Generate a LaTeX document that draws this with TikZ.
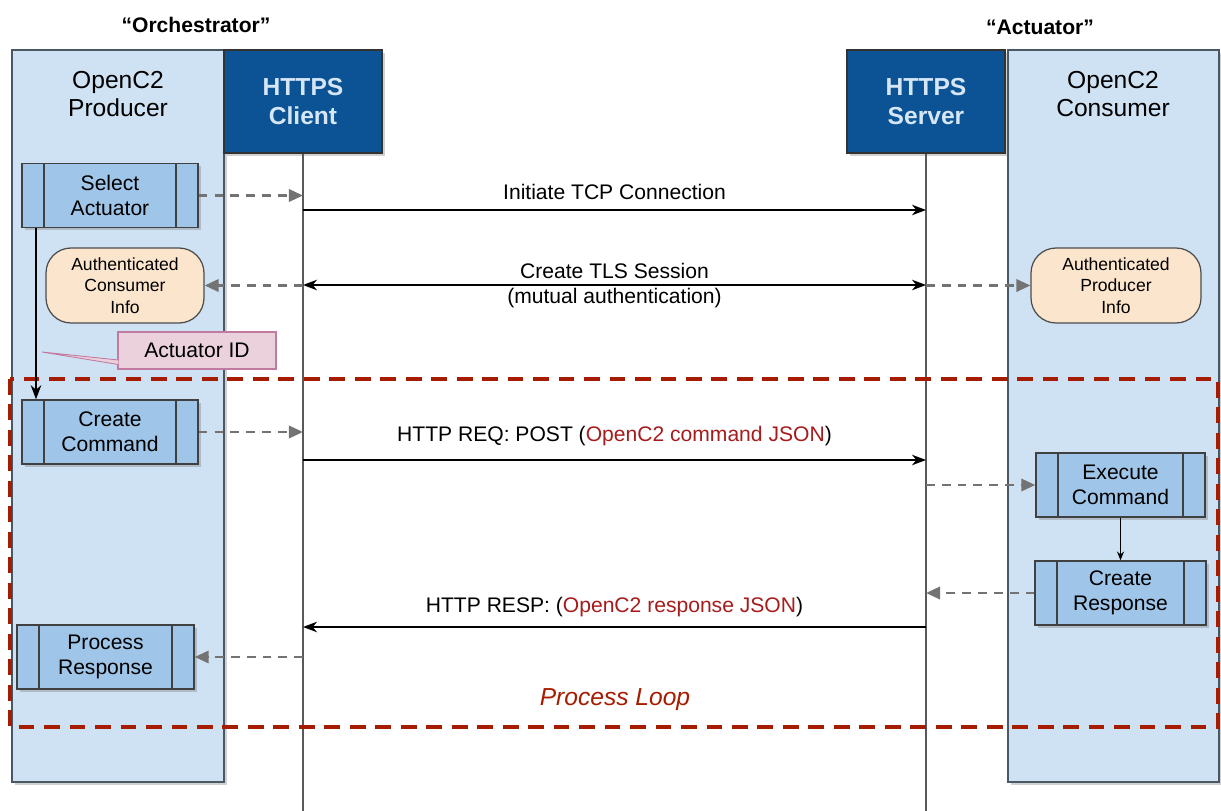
\documentclass[tikz,border=0pt]{standalone}
\usepackage{fontspec}
\setmainfont{Liberation Sans}
\usetikzlibrary{arrows.meta,shadows}
\definecolor{lanefill}{HTML}{CFE2F3}
\definecolor{laneline}{HTML}{4A5866}
\definecolor{hostfill}{HTML}{0B5394}
\definecolor{hosttext}{HTML}{D6E6F5}
\definecolor{stepfill}{HTML}{9FC5E8}
\definecolor{infofill}{HTML}{FCE5CD}
\definecolor{idfill}{HTML}{EAD1DC}
\definecolor{idline}{HTML}{C27BA0}
\definecolor{loopred}{HTML}{A61C00}
\definecolor{jsonred}{HTML}{A61C1C}

\begin{document}
\begin{tikzpicture}[x=0.02cm,y=-0.02cm,
  softshadow/.style={drop shadow={shadow xshift=1.5pt,shadow yshift=-1.5pt,opacity=0.3,fill=black!60}},
  lane/.style={draw=laneline,fill=lanefill,line width=0.8pt,minimum width=#1,minimum height=14.64cm,softshadow},
  host/.style={draw=black!80,fill=hostfill,text=hosttext,font=\fontsize{14}{17}\selectfont\bfseries,align=center,minimum width=3.16cm,minimum height=2.06cm,line width=0.8pt,softshadow},
  proc/.style={draw=black!75,fill=stepfill,line width=0.8pt,align=center,font=\fontsize{12}{14.2}\selectfont,minimum width=#1,minimum height=1.28cm,softshadow,
    path picture={\draw[black!75,line width=0.8pt] ([xshift=0.44cm]path picture bounding box.south west) -- ([xshift=0.44cm]path picture bounding box.north west)
      ([xshift=-0.44cm]path picture bounding box.south east) -- ([xshift=-0.44cm]path picture bounding box.north east);}},
  info/.style={draw=black!70,fill=infofill,rounded corners=0.5cm,line width=0.7pt,align=center,font=\fontsize{10}{12.3}\selectfont,minimum width=#1,minimum height=1.5cm},
  role/.style={font=\fontsize{12}{14}\selectfont\bfseries},
  title/.style={align=center,font=\fontsize{14}{16}\selectfont},
  life/.style={draw=black!65,line width=0.7pt},
  msg/.style={line width=0.9pt,-{Stealth[length=8pt,width=6pt,inset=2.5pt]}},
  msgboth/.style={line width=0.9pt,{Stealth[length=8pt,width=6pt,inset=2.5pt]}-{Stealth[length=8pt,width=6pt,inset=2.5pt]}},
  hop/.style={draw=black!55,line width=1.5pt,dash pattern=on 5pt off 4pt,-{Triangle[length=8pt,width=7pt]}},
  txt/.style={font=\fontsize{12}{14}\selectfont}]
\useasboundingbox (0,0) rectangle (1221,811);

\node[lane=4.24cm] (prod) at (118,416) {};
\node[lane=4.22cm] (cons) at (1113.5,416) {};
\node[title] at (118,94) {OpenC2\\Producer};
\node[title] at (1113,94) {OpenC2\\Consumer};
\node[role] at (196,25) {“Orchestrator”};
\node[role] at (1040,27) {“Actuator”};

\node[host] (client) at (303,101.5) {HTTPS\\Client};
\node[host] (server) at (926,101.5) {HTTPS\\Server};
\coordinate (clientend) at (303,811);
\coordinate (serverend) at (926,811);
\draw[life] (client.south) -- (clientend);
\draw[life] (server.south) -- (serverend);

\draw[loopred,line width=2pt,dash pattern=on 9pt off 5.5pt] (10,379) rectangle (1218,727);
\node[text=loopred,font=\fontsize{14}{16}\selectfont\itshape] at (615,700) {Process Loop};

\node[proc=3.52cm] (sel) at (110,195.5) {Select\\Actuator};
\node[proc=3.52cm] (cmd) at (110,432) {Create\\Command};
\node[proc=3.54cm] (prc) at (105.5,657) {Process\\Response};
\node[proc=3.38cm] (exe) at (1120.5,485) {Execute\\Command};
\node[proc=3.42cm] (rsp) at (1120.5,593) {Create\\Response};
\node[info=3.16cm] (cinfo) at (125,285.5) {Authenticated\\Consumer\\Info};
\node[info=3.4cm] (pinfo) at (1116,285.5) {Authenticated\\Producer\\Info};

\node[draw=idline,fill=idfill,line width=0.7pt,txt,minimum width=3.16cm,minimum height=0.74cm] (aid) at (197,350.5) {Actuator ID};
\coordinate (idtip) at (42,352);
\filldraw[draw=idline,fill=idfill,line width=0.5pt] ([yshift=-0.19cm,xshift=0.5pt]aid.west) -- (idtip) -- ([yshift=-0.28cm,xshift=0.5pt]aid.west);

\draw[line width=0.9pt,-{Stealth[length=8pt,width=6pt,inset=2.5pt]}] ([xshift=-1.48cm]sel.south) -- ([xshift=-1.48cm]cmd.north);
\draw[line width=0.5pt,-{Stealth[length=5pt,width=4pt]}] (exe.south) -- (rsp.north);

\coordinate (m1) at (0,210);
\coordinate (m2) at (0,285);
\coordinate (m3) at (0,460);
\coordinate (m4) at (0,627);

\draw[hop] (sel.east) -- (sel.east -| client.south);
\draw[msg] (client.south |- m1) -- (server.south |- m1) node[midway,above=2pt,txt] {Initiate TCP Connection};
\draw[msgboth] (client.south |- m2) -- (server.south |- m2)
  node[midway,above=0pt,txt] {Create TLS Session}
  node[midway,below=-2pt,txt] {(mutual authentication)};
\draw[hop] (cinfo.east -| client.south) -- (cinfo.east);
\draw[hop] (pinfo.west -| server.south) -- (pinfo.west);

\draw[hop] (cmd.east) -- (cmd.east -| client.south);
\draw[msg] (client.south |- m3) -- (server.south |- m3) node[midway,above=4pt,txt] {HTTP REQ: POST ({\color{jsonred}OpenC2 command JSON})};
\draw[hop] (exe.west -| server.south) -- (exe.west);
\draw[hop] (rsp.west) -- (rsp.west -| server.south);
\draw[msg] (server.south |- m4) -- (client.south |- m4) node[midway,above=2pt,txt] {HTTP RESP: ({\color{jsonred}OpenC2 response JSON})};
\draw[hop] (prc.east -| client.south) -- (prc.east);

\end{tikzpicture}
\end{document}
